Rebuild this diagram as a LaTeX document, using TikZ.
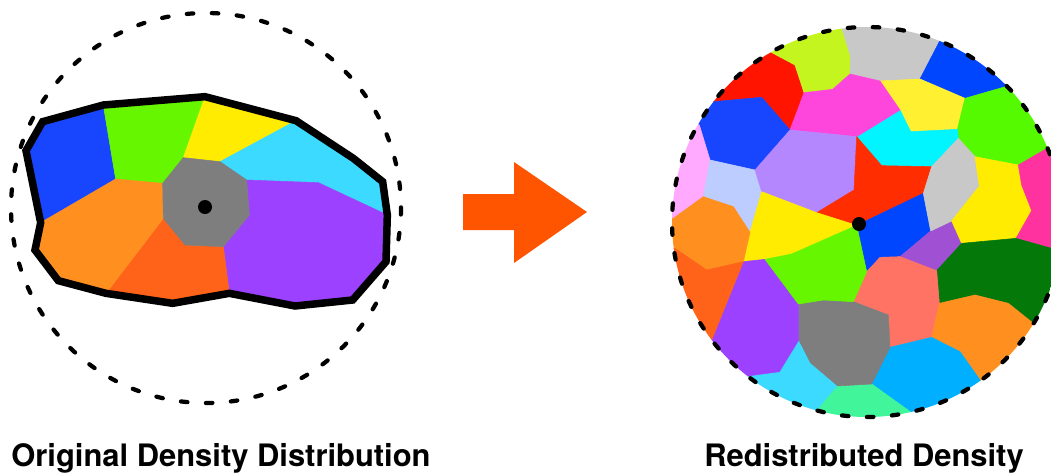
\documentclass[tikz,border=0pt]{standalone}
\usepackage{fontspec}
\setmainfont{TeX Gyre Heros}
\usepackage{xcolor}
\usepackage{tikz}
\usetikzlibrary{positioning}
\definecolor{arroworange}{RGB}{255, 85, 0}
\definecolor{cellblue}{RGB}{24, 70, 255}
\definecolor{cellgreen}{RGB}{102, 246, 0}
\definecolor{cellyellow}{RGB}{255, 236, 0}
\definecolor{cellcyan}{RGB}{60, 218, 255}
\definecolor{cellpurple}{RGB}{155, 65, 255}
\definecolor{cellred}{RGB}{255, 98, 25}
\definecolor{cellorange}{RGB}{255, 144, 32}
\definecolor{cellgray}{RGB}{126, 126, 126}
\definecolor{celllime}{RGB}{197, 245, 30}
\definecolor{cellsilver}{RGB}{200, 200, 200}
\definecolor{cellroyal}{RGB}{0, 70, 255}
\definecolor{cellbutter}{RGB}{255, 240, 50}
\definecolor{cellleaf}{RGB}{85, 250, 0}
\definecolor{cellaqua}{RGB}{0, 245, 255}
\definecolor{cellmagenta}{RGB}{255, 70, 220}
\definecolor{cellhotpink}{RGB}{255, 50, 160}
\definecolor{cellblush}{RGB}{255, 170, 255}
\definecolor{cellperiwinkle}{RGB}{190, 205, 255}
\definecolor{celllavender}{RGB}{180, 135, 255}
\definecolor{cellscarlet}{RGB}{255, 45, 0}
\definecolor{cellcrimson}{RGB}{255, 20, 0}
\definecolor{cellviolet}{RGB}{160, 80, 210}
\definecolor{cellforest}{RGB}{5, 120, 10}
\definecolor{cellsalmon}{RGB}{255, 115, 100}
\definecolor{cellsky}{RGB}{0, 175, 255}
\definecolor{cellmint}{RGB}{65, 245, 155}

\begin{document}
\begin{tikzpicture}[
    x=0.02cm, y=-0.02cm,
    cell/.style={fill=#1, draw=#1, line width=0.3pt, line join=round},
    ring/.style={draw=black, line width=0.085cm, line cap=round,
                 dash pattern=on 0.13cm off 0.37cm},
    outline/.style={draw=black, line width=0.15cm},
    caption/.style={anchor=base, font=\fontsize{17.6}{20}\selectfont\bfseries},
]
    \useasboundingbox (0,0) rectangle (1051,474);

    % left: original cells inside a blob
    \draw[ring] (206,208) circle[radius=195];
    \begin{scope}[scale=1/3]
        \path[cell=cellblue] (78,452) -- (128,365) -- (310,315) -- (347,537) -- (122,668) -- cycle;
        \path[cell=cellgreen] (310,315) -- (615,290) -- (550,473) -- (488,550) -- (347,537) -- cycle;
        \path[cell=cellyellow] (615,290) -- (888,362) -- (660,485) -- (550,473) -- cycle;
        \path[cell=cellcyan] (888,362) -- (1060,475) -- (1148,545) -- (1162,645)
            -- (955,548) -- (740,540) -- (660,485) -- cycle;
        \path[cell=cellpurple] (740,540) -- (955,548) -- (1162,645) -- (1158,785) -- (1058,900)
            -- (885,918) -- (688,880) -- (670,740) -- (748,645) -- cycle;
        \path[cell=cellred] (490,655) -- (555,735) -- (670,740) -- (688,880) -- (518,910)
            -- (318,880) -- cycle;
        \path[cell=cellorange] (122,668) -- (347,537) -- (488,550) -- (490,655) -- (318,880)
            -- (175,842) -- (105,750) -- cycle;
        \path[cell=cellgray] (488,550) -- (550,473) -- (660,485) -- (740,540) -- (748,645)
            -- (670,740) -- (555,735) -- (490,655) -- cycle;
        \draw[outline] (128,365) -- (310,315) -- (615,290) -- (888,362) -- (1060,475)
            -- (1148,545) -- (1162,645) -- (1158,785) -- (1058,900) -- (885,918) -- (688,880)
            -- (518,910) -- (318,880) -- (175,842) -- (105,750) -- (122,668) -- (78,452) -- cycle;
    \end{scope}
    \fill (205,207) circle[radius=7];

    % arrow
    \fill[arroworange] (463,194) -- (514,194) -- (514,162) -- (587,212) -- (514,263)
        -- (514,230) -- (463,230) -- cycle;

    % right: redistributed cells filling the disc
    \begin{scope}
        \clip (867,222) circle[radius=195];
        \begin{scope}[shift={(660,0)}, scale=1/3]
            \path[cell=cellcrimson] (330,155) -- (405,195) -- (432,278) -- (390,390) -- (305,292)
                -- (160,305) -- (-24,161) -- (214,-49) -- cycle;
            \path[cell=celllime] (545,82) -- (572,170) -- (570,222) -- (518,268) -- (432,278)
                -- (405,195) -- (330,155) -- (214,-49) -- (515,-152) -- cycle;
            \path[cell=cellsilver] (545,82) -- (572,170) -- (570,222) -- (660,243) -- (780,237)
                -- (838,125) -- (925,-91) -- (515,-152) -- cycle;
            \path[cell=cellroyal] (838,125) -- (780,237) -- (915,295) -- (1040,259) -- (1208,96)
                -- (925,-91) -- cycle;
            \path[cell=cellbutter] (660,243) -- (780,237) -- (915,295) -- (892,388) -- (752,395)
                -- (720,330) -- cycle;
            \path[cell=cellleaf] (1040,259) -- (915,295) -- (892,388) -- (895,415) -- (945,470)
                -- (1075,495) -- (1163,444) -- (1380,355) -- (1208,96) -- cycle;
            \path[cell=cellaqua] (720,330) -- (752,395) -- (892,388) -- (895,415) -- (815,500)
                -- (665,497) -- (590,410) -- cycle;
            \path[cell=cellmagenta] (432,278) -- (518,268) -- (570,222) -- (660,243) -- (720,330)
                -- (590,410) -- (390,390) -- cycle;
            \path[cell=cellblue] (160,305) -- (305,292) -- (390,390) -- (285,510) -- (150,480)
                -- (118,375) -- (-83,259) -- (-24,161) -- cycle;
            \path[cell=cellblush] (118,375) -- (150,480) -- (130,590) -- (40,655) -- (-192,651)
                -- (-83,259) -- cycle;
            \path[cell=cellperiwinkle] (150,480) -- (285,510) -- (305,575) -- (270,697)
                -- (220,620) -- (130,590) -- cycle;
            \path[cell=celllavender] (390,390) -- (590,410) -- (582,570) -- (470,638) -- (305,575)
                -- (285,510) -- cycle;
            \path[cell=cellscarlet] (590,410) -- (665,497) -- (815,500) -- (790,580) -- (590,676)
                -- (470,638) -- (582,570) -- cycle;
            \path[cell=cellyellow] (305,575) -- (470,638) -- (590,676) -- (395,762) -- (315,778)
                -- (250,785) -- (270,697) -- cycle;
            \path[cell=cellroyal] (590,676) -- (790,580) -- (812,693) -- (720,770) -- (660,772)
                -- (620,815) -- cycle;
            \path[cell=cellviolet] (812,693) -- (875,663) -- (905,730) -- (830,812) -- (720,770) -- cycle;
            \path[cell=cellsilver] (895,415) -- (945,470) -- (958,558) -- (875,663) -- (812,693)
                -- (790,580) -- (815,500) -- cycle;
            \path[cell=cellyellow] (945,470) -- (1075,495) -- (1085,555) -- (1115,632) -- (1068,715)
                -- (905,730) -- (875,663) -- (958,558) -- cycle;
            \path[cell=cellhotpink] (1163,444) -- (1075,495) -- (1085,555) -- (1115,632) -- (1068,715)
                -- (1200,752) -- (1432,786) -- (1380,355) -- cycle;
            \path[cell=cellforest] (905,730) -- (1068,715) -- (1200,752) -- (1432,786) -- (1320,1092)
                -- (1120,970) -- (1045,910) -- (945,885) -- (838,910) -- (830,812) -- cycle;
            \path[cell=cellsalmon] (620,815) -- (660,772) -- (720,770) -- (830,812) -- (838,910)
                -- (815,1012) -- (690,1042) -- (685,945) -- (580,905) -- cycle;
            \path[cell=cellorange] (838,910) -- (945,885) -- (1045,910) -- (1120,970) -- (1320,1092)
                -- (1096,1330) -- (960,1140) -- (900,1055) -- (815,1012) -- cycle;
            \path[cell=cellsky] (690,1042) -- (815,1012) -- (900,1055) -- (960,1140) -- (1096,1330)
                -- (809,1467) -- (755,1238) -- (635,1152) -- cycle;
            \path[cell=cellmint] (530,1158) -- (635,1152) -- (755,1238) -- (809,1467) -- (403,1463)
                -- (465,1235) -- cycle;
            \path[cell=cellgray] (415,912) -- (490,900) -- (580,905) -- (685,945) -- (690,1042)
                -- (635,1152) -- (530,1158) -- (450,1090) -- (415,1022) -- cycle;
            \path[cell=cellcyan] (262,1128) -- (358,1115) -- (415,1022) -- (450,1090) -- (530,1158)
                -- (465,1235) -- (403,1463) -- (118,1313) -- cycle;
            \path[cell=cellpurple] (250,785) -- (315,778) -- (415,912) -- (415,1022) -- (358,1115)
                -- (262,1128) -- (118,1313) -- (-31,1162) -- (155,1020) -- cycle;
            \path[cell=cellgreen] (315,778) -- (395,762) -- (590,676) -- (620,815) -- (580,905)
                -- (490,900) -- (415,912) -- cycle;
            \path[cell=cellorange] (130,590) -- (220,620) -- (270,697) -- (250,785) -- (140,810)
                -- (45,745) -- (-185,777) -- (-192,651) -- (40,655) -- cycle;
            \path[cell=cellred] (45,745) -- (140,810) -- (250,785) -- (155,1020) -- (-31,1162)
                -- (-185,777) -- cycle;
        \end{scope}
    \end{scope}
    \draw[ring] (867,222) circle[radius=195];
    \fill (859,224) circle[radius=7];

    \node[caption] (original) at (221,466) {Original Density Distribution};
    \node[caption] (redistributed) at (864,466) {Redistributed Density};
\end{tikzpicture}
\end{document}
